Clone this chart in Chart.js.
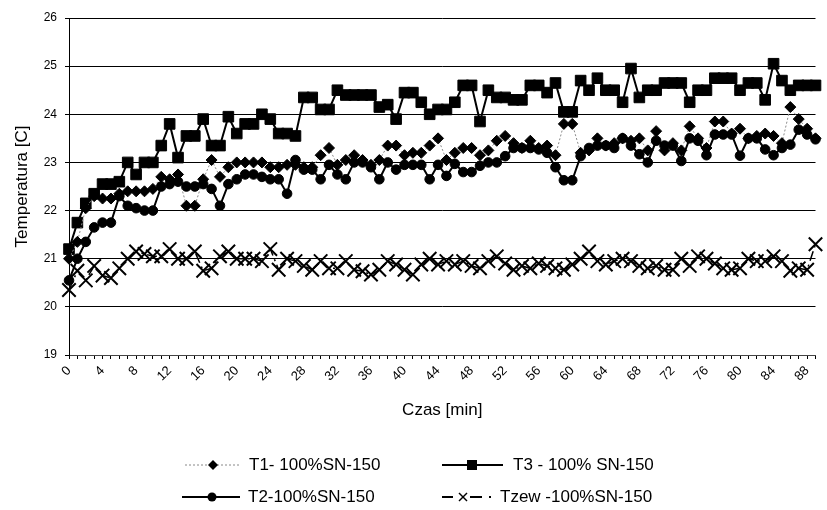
<!DOCTYPE html>
<html><head><meta charset="utf-8">
<script src="https://cdn.jsdelivr.net/npm/chart.js@4.4.1/dist/chart.umd.min.js"></script>
<style>
html,body{margin:0;padding:0;background:#fff;}
#wrap{position:relative;width:827px;height:510px;overflow:hidden;}
#c{position:absolute;left:0;top:0;}
.lg{position:absolute;font-family:"Liberation Sans",Arial,sans-serif;font-size:17px;color:#000;line-height:20px;white-space:nowrap;}
.sm{position:absolute;}
</style></head>
<body><div id="wrap"><canvas id="c" width="827" height="510"></canvas>
<svg class="sm" style="left:180px;top:455px" width="70" height="20"><line x1="5" y1="10" x2="60" y2="10" stroke="#888" stroke-width="1" stroke-dasharray="2,2"/><polygon points="33,5 38,10 33,15 28,10" fill="#000"/></svg>
<div class="lg" id="l1" style="left:249px;top:455px"></div>
<svg class="sm" style="left:437px;top:455px" width="75" height="20"><line x1="5" y1="10" x2="66" y2="10" stroke="#000" stroke-width="2"/><rect x="30" y="5" width="10" height="10" fill="#000"/></svg>
<div class="lg" id="l3" style="left:513px;top:455px"></div>
<svg class="sm" style="left:177px;top:487px" width="70" height="20"><line x1="5" y1="10" x2="63" y2="10" stroke="#000" stroke-width="2"/><circle cx="35" cy="10" r="4.5" fill="#000"/></svg>
<div class="lg" id="l2" style="left:248px;top:487px"></div>
<svg class="sm" style="left:437px;top:487px" width="65" height="20"><line x1="5" y1="10" x2="16" y2="10" stroke="#000" stroke-width="2"/><line x1="22" y1="6" x2="30" y2="14" stroke="#000" stroke-width="1.5"/><line x1="22" y1="14" x2="30" y2="6" stroke="#000" stroke-width="1.5"/><line x1="33" y1="10" x2="45" y2="10" stroke="#000" stroke-width="2"/><line x1="52" y1="10" x2="54" y2="10" stroke="#000" stroke-width="2"/></svg>
<div class="lg" id="l4" style="left:500px;top:487px"></div>
</div>
<script>
const minutes = [0,1,2,3,4,5,6,7,8,9,10,11,12,13,14,15,16,17,18,19,20,21,22,23,24,25,26,27,28,29,30,31,32,33,34,35,36,37,38,39,40,41,42,43,44,45,46,47,48,49,50,51,52,53,54,55,56,57,58,59,60,61,62,63,64,65,66,67,68,69,70,71,72,73,74,75,76,77,78,79,80,81,82,83,84,85,86,87,88,89];
const yTicks = [19,20,21,22,23,24,25,26];
const seriesNames = ["T1- 100%SN-150","T3 - 100% SN-150","T2-100%SN-150","Tzew -100%SN-150"];
const xTitle = "Czas [min]";
const yTitle = "Temperatura [C]";

const t1 = [21.0,21.35,22.05,22.3,22.25,22.25,22.35,22.4,22.4,22.4,
22.45,22.7,22.65,22.75,22.1,22.1,22.65,23.05,22.7,22.9,
23.0,23.0,23.0,23.0,22.9,22.9,22.95,22.95,22.9,22.9,
23.15,23.3,22.95,23.05,23.15,23.05,22.95,23.05,23.35,23.35,
23.15,23.2,23.2,23.35,23.5,23.05,23.2,23.3,23.3,23.15,
23.25,23.45,23.55,23.4,23.3,23.45,23.3,23.35,23.15,23.8,
23.8,23.2,23.25,23.5,23.35,23.4,23.5,23.45,23.5,23.25,
23.65,23.25,23.4,23.25,23.75,23.5,23.3,23.85,23.85,23.6,
23.7,23.5,23.55,23.6,23.55,23.4,24.15,23.9,23.7,23.5];
const t3 = [21.2,21.75,22.15,22.35,22.55,22.55,22.6,23.0,22.75,23.0,
23.0,23.35,23.8,23.1,23.55,23.55,23.9,23.35,23.35,23.95,
23.6,23.8,23.8,24.0,23.9,23.6,23.6,23.55,24.35,24.35,
24.1,24.1,24.5,24.4,24.4,24.4,24.4,24.15,24.2,23.9,
24.45,24.45,24.25,24.0,24.1,24.1,24.25,24.6,24.6,23.85,
24.5,24.35,24.35,24.3,24.3,24.6,24.6,24.45,24.65,24.05,
24.05,24.7,24.5,24.75,24.5,24.5,24.25,24.95,24.35,24.5,
24.5,24.65,24.65,24.65,24.25,24.5,24.5,24.75,24.75,24.75,
24.5,24.65,24.65,24.3,25.05,24.7,24.5,24.6,24.6,24.6];
const t2 = [20.55,21.0,21.35,21.65,21.75,21.75,22.3,22.1,22.05,22.0,
22.0,22.5,22.55,22.6,22.5,22.5,22.55,22.45,22.1,22.55,
22.65,22.75,22.75,22.7,22.65,22.65,22.35,23.05,22.85,22.85,
22.65,22.95,22.75,22.65,23.0,23.0,22.9,22.65,23.0,22.85,
22.95,22.95,22.95,22.65,22.95,22.72,22.97,22.8,22.8,22.93,
23.0,23.0,23.13,23.3,23.3,23.3,23.27,23.2,22.9,22.63,
22.63,23.13,23.3,23.35,23.35,23.3,23.5,23.35,23.17,23.0,
23.45,23.35,23.35,23.03,23.5,23.45,23.15,23.58,23.58,23.58,
23.14,23.5,23.5,23.27,23.15,23.3,23.37,23.68,23.58,23.48];
const tzew = [20.35,20.75,20.55,20.85,20.65,20.6,20.8,21.0,21.15,21.1,
21.05,21.05,21.2,21.0,21.0,21.15,20.75,20.8,21.05,21.15,
21.0,21.0,21.0,20.95,21.2,20.77,21.0,20.95,20.85,20.77,
20.95,20.8,20.8,20.95,20.77,20.74,20.67,20.77,20.95,20.88,
20.77,20.67,20.88,21.0,20.88,20.95,20.88,20.95,20.85,20.8,
20.95,21.05,20.9,20.77,20.85,20.8,20.9,20.85,20.8,20.77,
20.88,21.0,21.15,20.95,20.88,20.95,21.0,20.95,20.85,20.8,
20.85,20.77,20.77,21.0,20.85,21.05,21.0,20.9,20.8,20.77,
20.8,21.0,20.95,20.95,21.05,20.95,20.75,20.8,20.77,21.3];

document.getElementById('l1').textContent = seriesNames[0];
document.getElementById('l3').textContent = seriesNames[1];
document.getElementById('l2').textContent = seriesNames[2];
document.getElementById('l4').textContent = seriesNames[3];

const FONT = '"Liberation Sans", Arial, sans-serif';
new Chart(document.getElementById('c'), {
  type: 'line',
  data: {
    labels: minutes,
    datasets: [
      {label: seriesNames[0], data: t1, borderColor: '#8a8a8a', borderWidth: 1, borderDash: [2,2],
       pointStyle: 'rectRot', pointRadius: 5.5, pointBackgroundColor: '#000', pointBorderColor: '#000', pointBorderWidth: 1, order: 2},
      {label: seriesNames[1], data: t3, borderColor: '#000', borderWidth: 2,
       pointStyle: 'rect', pointRadius: 7.5, pointBackgroundColor: '#000', pointBorderColor: '#000', pointBorderWidth: 1, order: 3},
      {label: seriesNames[2], data: t2, borderColor: '#000', borderWidth: 2,
       pointStyle: 'circle', pointRadius: 4.8, pointBackgroundColor: '#000', pointBorderColor: '#000', pointBorderWidth: 1, order: 1},
      {label: seriesNames[3], data: tzew, borderColor: '#000', borderWidth: 1.5, borderDash: [10,4,2,4],
       pointStyle: 'crossRot', pointRadius: 9.5, pointBackgroundColor: '#000', pointBorderColor: '#000', pointBorderWidth: 2, order: 4}
    ]
  },
  options: {
    responsive: false,
    animation: false,
    events: [],
    layout: {padding: {left: 4, right: -4, top: 18, bottom: 85}},
    plugins: {legend: {display: false}, tooltip: {enabled: false}},
    elements: {line: {tension: 0}},
    scales: {
      x: {
        type: 'category',
        offset: false,
        afterFit: s => { s.height = 70; s.paddingRight = 0; s.paddingLeft = 0; },
        grid: {drawOnChartArea: false, drawTicks: true, tickLength: 4, color: '#000'},
        border: {display: true, color: '#444', width: 1},
        ticks: {autoSkip: false, minRotation: 45, maxRotation: 45, padding: 4, color: '#000',
          font: {family: FONT, size: 13},
          callback: (v, i) => (minutes[i] % 4 === 0 ? String(minutes[i]) : '')},
        title: {display: true, text: xTitle, color: '#000', font: {family: FONT, size: 17}, padding: {top: 0, bottom: 4}}
      },
      y: {
        min: 19, max: 26,
        afterFit: s => { s.width = 65; },
        afterBuildTicks: s => { s.ticks = yTicks.map(v => ({value: v})); },
        grid: {color: '#000', lineWidth: 1, drawTicks: true, tickLength: 4},
        border: {display: true, color: '#000', width: 1},
        ticks: {color: '#000', padding: 8, font: {family: FONT, size: 12}},
        title: {display: true, text: yTitle, color: '#000', font: {family: FONT, size: 17}, padding: {top: 8, bottom: 0}}
      }
    }
  }
});
</script>
</body></html>
